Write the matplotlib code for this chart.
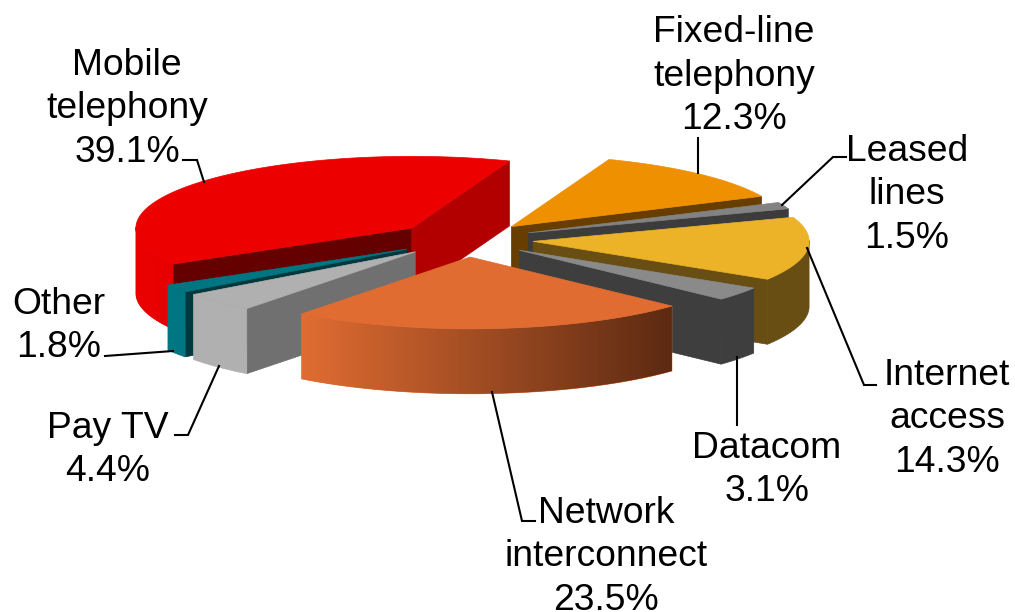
# exploded 3D pie of revenue shares, drawn by hand since matplotlib has no 3D pie
import numpy as np
import matplotlib.pyplot as plt
from matplotlib.patches import Polygon

plt.rcParams['font.family'] = ['Liberation Sans', 'DejaVu Sans']

# clockwise from the back of the pie, first slice is Fixed-line
labels = ['Fixed-line\ntelephony', 'Leased\nlines', 'Internet\naccess', 'Datacom',
          'Network\ninterconnect', 'Pay TV', 'Other', 'Mobile\ntelephony']
shares = [12.3, 1.5, 14.3, 3.1, 23.5, 4.4, 1.8, 39.1]

tops = ['#ee9000', '#828282', '#ecb228', '#8a8a8a', '#e06c32', '#b0b0b0', '#007682', '#ec0000']
cuts_start = ['#683e00', '#3c3c3c', '#684e12', '#3e3e3e', '#5c2a12', '#707070', '#00383e', '#640000']
cuts_end = ['#683e00', '#3c3c3c', '#684e12', '#3e3e3e', '#5c2a12', '#707070', '#00383e', '#b20000']
walls_left = ['#683e00', '#3c3c3c', '#684e12', '#3e3e3e', '#e06c32', '#b0b0b0', '#007682', '#ec0000']
walls_right = ['#683e00', '#3c3c3c', '#684e12', '#3e3e3e', '#5c2a12', '#b0b0b0', '#007682', '#e60000']

# back to front
draw_order = [7, 0, 1, 2, 3, 6, 5, 4]

# label centres and leader lines, in pixels
label_pos = [(734, 76), (907, 195), (947, 419), (767, 470),
             (606, 557), (108, 450), (59, 326), (127, 109)]
leaders = [[(698, 138), (698, 173)],
           [(846, 157), (833, 157), (782, 205)],
           [(876, 385), (864, 385), (807, 248)],
           [(737, 357), (737, 425)],
           [(492, 392), (522, 521), (535, 521)],
           [(219, 366), (188, 435), (175, 435)],
           [(105, 356), (173, 351)],
           [(183, 160), (197, 160), (204, 182)]]

# pie geometry in pixels
cx, cy = 464.5, 239.5
radius = 276
squash = 0.26
explode = 69
height = 65
start_angle = 20.7


def ground(theta, r=radius):
    t = np.radians(theta)
    return r * np.sin(t), -r * squash * np.cos(t)


def hex2rgb(c):
    return np.array([int(c[i:i + 2], 16) / 255 for i in (1, 3, 5)])


fig = plt.figure(figsize=(10.15, 6.12), dpi=100)
ax = fig.add_axes([0, 0, 1, 1])

edges = start_angle + np.cumsum([0] + shares) * 3.6
z = 1

for i in draw_order:
    a, b = edges[i], edges[i + 1]
    mid = (a + b) / 2
    ox, oy = ground(mid, explode)
    ax0, ay0 = cx + ox, cy + oy * (0.255 / squash)

    th = np.linspace(a, b, max(int(b - a) * 2, 4))
    rx, ry = ground(th)
    rim = np.column_stack([ax0 + rx, ay0 + ry])
    down = np.array([0, height])

    # cut faces that look at the viewer
    if np.sin(np.radians(a)) < 0:
        p = rim[0]
        ax.add_patch(Polygon([(ax0, ay0), p, p + down, (ax0, ay0 + height)],
                             fc=cuts_start[i], ec=cuts_start[i], lw=0.5, zorder=z))
        z += 1
    if np.sin(np.radians(b)) > 0:
        p = rim[-1]
        ax.add_patch(Polygon([(ax0, ay0), p, p + down, (ax0, ay0 + height)],
                             fc=cuts_end[i], ec=cuts_end[i], lw=0.5, zorder=z))
        z += 1

    # outer wall, only the front half shows
    front = rim[np.cos(np.radians(th)) < 0.02]
    if len(front) > 1:
        wall = Polygon(np.vstack([front, front[::-1] + down]), fc=walls_left[i], ec=walls_left[i], lw=0.5, zorder=z)
        ax.add_patch(wall)
        z += 1
        if walls_left[i] != walls_right[i]:
            # shading runs left to right across the wall
            ramp = np.linspace(hex2rgb(walls_left[i]), hex2rgb(walls_right[i]), 256)[None, :, :]
            x0, x1 = front[:, 0].min(), front[:, 0].max()
            y0, y1 = front[:, 1].min(), front[:, 1].max() + height
            im = ax.imshow(ramp, extent=(x0, x1, y1, y0), aspect='auto', interpolation='bilinear', zorder=z)
            wall_clip = Polygon(np.vstack([front, front[::-1] + down]), transform=ax.transData)
            im.set_clip_path(wall_clip)
            z += 1

    # top surface
    ax.add_patch(Polygon(np.vstack([(ax0, ay0), rim]), fc=tops[i], ec=tops[i], lw=0.5, zorder=z))
    z += 1

for i in range(len(shares)):
    xs, ys = zip(*leaders[i])
    ax.plot(xs, ys, color='black', lw=1.5, solid_joinstyle='miter', zorder=z)
    ax.text(label_pos[i][0], label_pos[i][1], f'{labels[i]}\n{shares[i]}%', ha='center', va='center',
            multialignment='center', fontsize=26.8, linespacing=1.31, color='black', zorder=z)

ax.set_xlim(0, 1015)
ax.set_ylim(612, 0)
ax.axis('off')

plt.savefig('out.png', dpi=100)
